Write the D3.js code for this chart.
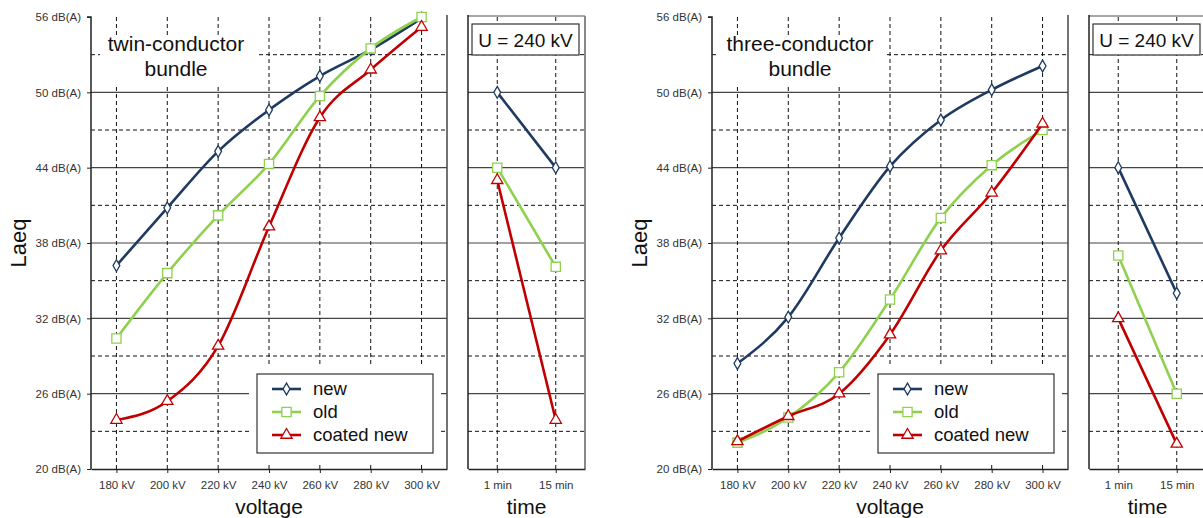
<!DOCTYPE html>
<html>
<head>
<meta charset="utf-8">
<script src="https://cdn.jsdelivr.net/npm/d3@7"></script>
<style>
  body { margin: 0; background: #fff; }
  svg { display: block; font-family: "Liberation Sans", Arial, sans-serif; }
</style>
</head>
<body>
<svg id="chart" width="1203" height="518"></svg>
<script>
// categories
const voltages = ["180 kV", "200 kV", "220 kV", "240 kV", "260 kV", "280 kV", "300 kV"];
const times = ["1 min", "15 min"];
const majorTicks = [20, 26, 32, 38, 44, 50, 56];
const minorTicks = [23, 29, 35, 41, 47, 53];
const seriesNames = ["new", "old", "coated new"];

// twin-conductor bundle, Laeq vs voltage
const twinNew = [36.2, 40.8, 45.3, 48.6, 51.3, 53.4, 55.9];
const twinOld = [30.4, 35.6, 40.2, 44.3, 49.7, 53.5, 56.0];
const twinCoated = [23.9, 25.4, 29.8, 39.3, 48.0, 51.8, 55.2];
// twin-conductor bundle, U = 240 kV vs time
const twinTimeNew = [50.0, 44.0];
const twinTimeOld = [44.0, 36.1];
const twinTimeCoated = [43.0, 23.9];

// three-conductor bundle
const threeNew = [28.4, 32.1, 38.4, 44.1, 47.8, 50.2, 52.1];
const threeOld = [22.1, 24.1, 27.7, 33.5, 40.0, 44.2, 47.0];
const threeCoated = [22.2, 24.2, 26.0, 30.7, 37.4, 42.0, 47.5];
const threeTimeNew = [44.0, 34.0];
const threeTimeOld = [37.0, 26.0];
const threeTimeCoated = [32.0, 22.0];

const colors = ["#1f3a60", "#8fd14f", "#c00000"];
const symbols = [d3.symbolDiamond, d3.symbolSquare, d3.symbolTriangle];
const symSizes = [40, 85, 55];

const svg = d3.select("#chart");
const y = d3.scaleLinear().domain([20, 56]).range([469, 17]);

const panels = [
  { left: 91, title: ["twin-conductor", "bundle"], titleBox: [100, 35, 156, 50],
    main: [twinNew, twinOld, twinCoated], time: [twinTimeNew, twinTimeOld, twinTimeCoated] },
  { left: 712, title: ["three-conductor", "bundle"], titleBox: [718, 35, 168, 50],
    main: [threeNew, threeOld, threeCoated], time: [threeTimeNew, threeTimeOld, threeTimeCoated] }
];

function drawGrid(g, x, x0, x1, cats) {
  // horizontal grid
  g.selectAll(".hmaj").data(majorTicks.slice(1, -1)).join("line")
    .attr("x1", x0).attr("x2", x1).attr("y1", d => y(d)).attr("y2", d => y(d))
    .attr("stroke", "#444").attr("stroke-width", 1.2);
  g.selectAll(".hmin").data(minorTicks).join("line")
    .attr("class", "hmin")
    .attr("x1", x0).attr("x2", x1).attr("y1", d => y(d)).attr("y2", d => y(d))
    .attr("stroke", "#111").attr("stroke-width", 1).attr("stroke-dasharray", "4,3");
  // vertical dashed grid
  g.selectAll(".vgrid").data(cats).join("line")
    .attr("class", "vgrid")
    .attr("x1", d => x(d)).attr("x2", d => x(d)).attr("y1", y(56)).attr("y2", y(20))
    .attr("stroke", "#111").attr("stroke-width", 1).attr("stroke-dasharray", "4,3");
}

function drawSeries(g, x, cats, list, curve) {
  list.forEach((vals, i) => {
    const pts = vals.map((v, j) => [x(cats[j]), y(v)]);
    g.append("path")
      .attr("d", d3.line().curve(curve)(pts))
      .attr("fill", "none").attr("stroke", colors[i]).attr("stroke-width", 2.6);
    g.selectAll(null).data(pts).join("path")
      .attr("transform", p => `translate(${p[0]},${p[1]})`)
      .attr("d", d3.symbol().type(symbols[i]).size(symSizes[i]))
      .attr("fill", "#fff").attr("stroke", colors[i]).attr("stroke-width", 1.3);
  });
}

panels.forEach(p => {
  const mainW = 356, timeLeft = p.left + 377, timeW = 117;
  const x = d3.scalePoint().domain(voltages).range([p.left, p.left + mainW]).padding(0.5);
  const xt = d3.scalePoint().domain(times).range([timeLeft, timeLeft + timeW]).padding(0.5);

  // ---- main panel
  const gm = svg.append("g");
  drawGrid(gm, x, p.left, p.left + mainW, voltages);

  // title box hides grid
  gm.append("rect").attr("x", p.titleBox[0]).attr("y", p.titleBox[1])
    .attr("width", p.titleBox[2]).attr("height", p.titleBox[3]).attr("fill", "#fff");
  const tcx = p.titleBox[0] + p.titleBox[2] / 2 - 2;
  gm.append("text").attr("x", tcx).attr("y", 51).attr("text-anchor", "middle")
    .attr("font-size", 21).attr("fill", "#111").text(p.title[0]);
  gm.append("text").attr("x", tcx).attr("y", 76).attr("text-anchor", "middle")
    .attr("font-size", 21).attr("fill", "#111").text(p.title[1]);

  // legend background hides grid
  const lx = p.left + 166, ly = 374;
  gm.append("rect").attr("x", lx - 8).attr("y", ly - 9).attr("width", 192).attr("height", 97)
    .attr("fill", "#fff");

  drawSeries(gm, x, voltages, p.main, d3.curveMonotoneX);

  // axes
  gm.append("g").attr("transform", `translate(${p.left},0)`)
    .call(d3.axisLeft(y).tickValues(majorTicks).tickSize(4).tickFormat(d => d + " dB(A)"))
    .call(a => a.select(".domain").attr("stroke", "#222").attr("stroke-width", 1.5).attr("d", `M-4,${y(56)}H0V${y(20)}`))
    .call(a => a.selectAll(".tick line").attr("stroke", "#222"))
    .call(a => a.selectAll("text").attr("font-size", 11.5).attr("fill", "#333").attr("dx", -3));
  gm.append("g").attr("transform", `translate(0,${y(20)})`)
    .call(d3.axisBottom(x).tickSize(4).tickSizeOuter(0))
    .call(a => a.select(".domain").attr("stroke", "#222").attr("stroke-width", 1.5))
    .call(a => a.selectAll(".tick line").attr("stroke", "#222"))
    .call(a => a.selectAll("text").attr("font-size", 11.5).attr("fill", "#333").attr("dy", "1.15em"));
  gm.append("line").attr("x1", p.left + mainW).attr("x2", p.left + mainW)
    .attr("y1", y(56) - 2).attr("y2", y(20)).attr("stroke", "#444").attr("stroke-width", 1.5);

  // legend
  gm.append("rect").attr("x", lx).attr("y", ly).attr("width", 176).attr("height", 79)
    .attr("fill", "#fff").attr("stroke", "#333").attr("stroke-width", 1.2);
  seriesNames.forEach((name, i) => {
    const ry = ly + 15 + i * 23;
    gm.append("line").attr("x1", lx + 15).attr("x2", lx + 44).attr("y1", ry).attr("y2", ry)
      .attr("stroke", colors[i]).attr("stroke-width", 2.6);
    gm.append("path").attr("transform", `translate(${lx + 29.5},${ry})`)
      .attr("d", d3.symbol().type(symbols[i]).size(symSizes[i]))
      .attr("fill", "#fff").attr("stroke", colors[i]).attr("stroke-width", 1.3);
    gm.append("text").attr("x", lx + 56).attr("y", ry + 6).attr("font-size", 18.5)
      .attr("fill", "#111").text(name);
  });

  gm.append("text").attr("x", x("240 kV")).attr("y", 514).attr("text-anchor", "middle")
    .attr("font-size", 21).attr("fill", "#111").text("voltage");
  svg.append("text").attr("transform", `translate(${p.left - 65},${243}) rotate(-90)`)
    .attr("text-anchor", "middle").attr("font-size", 22).attr("fill", "#111").text("Laeq");

  // ---- time panel
  const gt = svg.append("g");
  drawGrid(gt, xt, timeLeft, timeLeft + timeW, times);
  gt.append("rect").attr("x", timeLeft + 4).attr("y", 24).attr("width", 107).attr("height", 31)
    .attr("fill", "#fff").attr("stroke", "#333").attr("stroke-width", 1.2);
  gt.append("text").attr("x", timeLeft + 57.5).attr("y", 46.5).attr("text-anchor", "middle")
    .attr("font-size", 19).attr("fill", "#111").text("U = 240 kV");

  drawSeries(gt, xt, times, p.time, d3.curveLinear);

  gt.append("line").attr("x1", timeLeft).attr("x2", timeLeft + timeW)
    .attr("y1", y(56) - 1).attr("y2", y(56) - 1).attr("stroke", "#888").attr("stroke-width", 1.5);
  gt.append("line").attr("x1", timeLeft + timeW).attr("x2", timeLeft + timeW)
    .attr("y1", y(56) - 1).attr("y2", y(20)).attr("stroke", "#888").attr("stroke-width", 2);
  gt.append("line").attr("x1", timeLeft).attr("x2", timeLeft)
    .attr("y1", y(56) - 2).attr("y2", y(20)).attr("stroke", "#222").attr("stroke-width", 1.5);
  gt.append("g").attr("transform", `translate(0,${y(20)})`)
    .call(d3.axisBottom(xt).tickSize(4).tickSizeOuter(0))
    .call(a => a.select(".domain").attr("stroke", "#222").attr("stroke-width", 1.5))
    .call(a => a.selectAll(".tick line").attr("stroke", "#222"))
    .call(a => a.selectAll("text").attr("font-size", 11.5).attr("fill", "#333").attr("dy", "1.15em"));
  gt.append("text").attr("x", timeLeft + timeW / 2).attr("y", 514).attr("text-anchor", "middle")
    .attr("font-size", 21).attr("fill", "#111").text("time");
});
</script>
</body>
</html>
